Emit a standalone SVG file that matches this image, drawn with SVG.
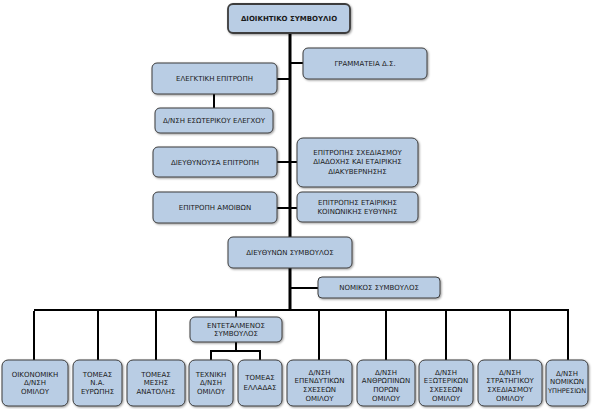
<svg xmlns="http://www.w3.org/2000/svg" width="595" height="409" viewBox="0 0 595 409">
<style>
.b{fill:#b9cde4;stroke:#3c3c3c;stroke-width:1;filter:url(#sh)}
.t{font-family:"DejaVu Sans",Verdana,sans-serif;font-size:7px;fill:#1a1a1a;text-anchor:middle}
.c{stroke:#000;stroke-width:2;fill:none}
.k{stroke:#000;stroke-width:3;fill:none}
</style>
<defs>
<filter id="sh" x="-10%" y="-10%" width="120%" height="130%">
<feDropShadow dx="1" dy="1" stdDeviation="0.8" flood-color="#000" flood-opacity="0.4"/>
</filter>
</defs>
<rect width="595" height="409" fill="#fff"/>
<g id="connectors">
<path class="k" d="M290 33V237M290 268V310"/>
<path class="c" d="M290 63H303M277 79H290M214 94V108M277 162H297M277 208H297M290 288H318"/>
<path class="c" d="M34 311V360M34 310H568V360M98 310V360M156 310V360M236 310V317M319 310V360M386 310V360M446 310V360M510 310V360"/>
<path class="c" d="M236 342V351M211 360V351H260V360"/>
</g>
<g id="n1"><rect class="b" x="228" y="4" width="122" height="29" rx="5" style="stroke-width:1.8"/><text class="t" x="289" y="21" style="font-weight:bold;font-size:7px">ΔΙΟΙΚΗΤΙΚΟ ΣΥΜΒΟΥΛΙΟ</text></g>
<g id="n2"><rect class="b" x="303" y="48" width="124" height="31" rx="5"/><text class="t" x="365" y="66">ΓΡΑΜΜΑΤΕΙΑ Δ.Σ.</text></g>
<g id="n3"><rect class="b" x="152" y="63" width="125" height="31" rx="5"/><text class="t" x="214.5" y="81">ΕΛΕΓΚΤΙΚΗ ΕΠΙΤΡΟΠΗ</text></g>
<g id="n4"><rect class="b" x="155" y="108" width="118" height="25" rx="5"/><text class="t" x="214" y="123">Δ/ΝΣΗ ΕΣΩΤΕΡΙΚΟΥ ΕΛΕΓΧΟΥ</text></g>
<g id="n5"><rect class="b" x="153" y="147" width="124" height="30" rx="5"/><text class="t" x="215" y="164.5">ΔΙΕΥΘΥΝΟΥΣΑ ΕΠΙΤΡΟΠΗ</text></g>
<g id="n6"><rect class="b" x="297" y="138" width="121" height="49" rx="6"/><text class="t" x="357.5" y="154.5">ΕΠΙΤΡΟΠΗΣ ΣΧΕΔΙΑΣΜΟΥ</text><text class="t" x="357.5" y="164">ΔΙΑΔΟΧΗΣ ΚΑΙ ΕΤΑΙΡΙΚΗΣ</text><text class="t" x="357.5" y="173.5">ΔΙΑΚΥΒΕΡΝΗΣΗΣ</text></g>
<g id="n7"><rect class="b" x="153" y="192" width="124" height="31" rx="5"/><text class="t" x="215" y="210">ΕΠΙΤΡΟΠΗ ΑΜΟΙΒΩΝ</text></g>
<g id="n8"><rect class="b" x="297" y="192" width="121" height="30" rx="5"/><text class="t" x="357.5" y="204.5">ΕΠΙΤΡΟΠΗΣ ΕΤΑΙΡΙΚΗΣ</text><text class="t" x="357.5" y="214">ΚΟΙΝΩΝΙΚΗΣ ΕΥΘΥΝΗΣ</text></g>
<g id="n9"><rect class="b" x="228" y="237" width="124" height="31" rx="5"/><text class="t" x="290" y="255">ΔΙΕΥΘΥΝΩΝ ΣΥΜΒΟΥΛΟΣ</text></g>
<g id="n10"><rect class="b" x="318" y="277" width="122" height="21" rx="4"/><text class="t" x="379" y="290">ΝΟΜΙΚΟΣ ΣΥΜΒΟΥΛΟΣ</text></g>
<g id="n11"><rect class="b" x="190" y="317" width="92" height="25" rx="5"/><text class="t" x="236" y="327.5">ΕΝΤΕΤΑΛΜΕΝΟΣ</text><text class="t" x="236" y="336">ΣΥΜΒΟΥΛΟΣ</text></g>
<g id="n12"><rect class="b" x="2" y="360" width="66" height="46" rx="6"/><text class="t" x="35" y="376.5">ΟΙΚΟΝΟΜΙΚΗ</text><text class="t" x="35" y="385">Δ/ΝΣΗ</text><text class="t" x="35" y="393.5">ΟΜΙΛΟΥ</text></g>
<g id="n13"><rect class="b" x="73" y="360" width="49" height="46" rx="6"/><text class="t" x="97.5" y="376.5">ΤΟΜΕΑΣ</text><text class="t" x="97.5" y="385">Ν.Α.</text><text class="t" x="97.5" y="393.5">ΕΥΡΩΠΗΣ</text></g>
<g id="n14"><rect class="b" x="127" y="360" width="58" height="46" rx="6"/><text class="t" x="156" y="376.5">ΤΟΜΕΑΣ</text><text class="t" x="156" y="385">ΜΕΣΗΣ</text><text class="t" x="156" y="393.5">ΑΝΑΤΟΛΗΣ</text></g>
<g id="n15"><rect class="b" x="189" y="360" width="44" height="46" rx="6"/><text class="t" x="211" y="376.5">ΤΕΧΝΙΚΗ</text><text class="t" x="211" y="385">Δ/ΝΣΗ</text><text class="t" x="211" y="393.5">ΟΜΙΛΟΥ</text></g>
<g id="n16"><rect class="b" x="238" y="360" width="44" height="46" rx="6"/><text class="t" x="260" y="379.5">ΤΟΜΕΑΣ</text><text class="t" x="260" y="389.5">ΕΛΛΑΔΑΣ</text></g>
<g id="n17"><rect class="b" x="287" y="360" width="65" height="46" rx="6"/><text class="t" x="319.5" y="374.5">Δ/ΝΣΗ</text><text class="t" x="319.5" y="383">ΕΠΕΝΔΥΤΙΚΩΝ</text><text class="t" x="319.5" y="391.5">ΣΧΕΣΕΩΝ</text><text class="t" x="319.5" y="400.5">ΟΜΙΛΟΥ</text></g>
<g id="n18"><rect class="b" x="357" y="360" width="58" height="46" rx="6"/><text class="t" x="386" y="374.5">Δ/ΝΣΗ</text><text class="t" x="386" y="383">ΑΝΘΡΩΠΙΝΩΝ</text><text class="t" x="386" y="391.5">ΠΟΡΩΝ</text><text class="t" x="386" y="400.5">ΟΜΙΛΟΥ</text></g>
<g id="n19"><rect class="b" x="419" y="360" width="54" height="46" rx="6"/><text class="t" x="446" y="374.5">Δ/ΝΣΗ</text><text class="t" x="446" y="383">ΕΞΩΤΕΡΙΚΩΝ</text><text class="t" x="446" y="391.5">ΣΧΕΣΕΩΝ</text><text class="t" x="446" y="400.5">ΟΜΙΛΟΥ</text></g>
<g id="n20"><rect class="b" x="478" y="360" width="64" height="46" rx="6"/><text class="t" x="510" y="374.5">Δ/ΝΣΗ</text><text class="t" x="510" y="383">ΣΤΡΑΤΗΓΙΚΟΥ</text><text class="t" x="510" y="391.5">ΣΧΕΔΙΑΣΜΟΥ</text><text class="t" x="510" y="400.5">ΟΜΙΛΟΥ</text></g>
<g id="n21"><rect class="b" x="546" y="360" width="42" height="46" rx="6"/><text class="t" x="567" y="375.5">Δ/ΝΣΗ</text><text class="t" x="567" y="384">ΝΟΜΙΚΩΝ</text><text class="t" x="567" y="392.5" style="font-size:6.6px">ΥΠΗΡΕΣΙΩΝ</text></g>
</svg>
